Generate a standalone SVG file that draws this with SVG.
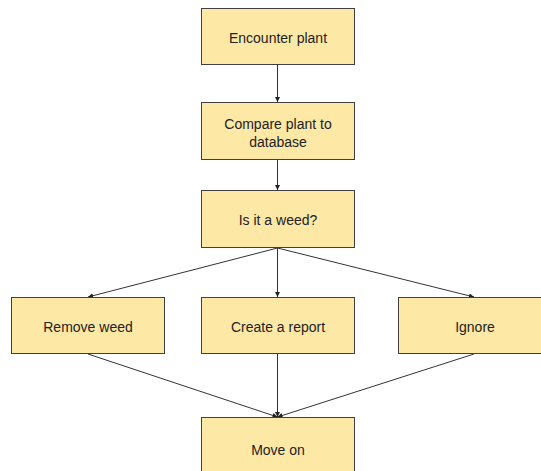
<svg xmlns="http://www.w3.org/2000/svg" width="541" height="471" viewBox="0 0 541 471">
<defs>
<style>
.box{fill:#fde8a6;stroke:#404040;stroke-width:1}
.lbl{font-family:"Liberation Sans",Arial,sans-serif;font-size:14px;fill:#222;text-anchor:middle}
.con{stroke:#333;stroke-width:1;fill:none;marker-end:url(#ah)}
</style>
<marker id="ah" viewBox="0 0 10 10" refX="10" refY="5" markerWidth="5" markerHeight="5" orient="auto" markerUnits="userSpaceOnUse">
<path d="M0,0 L10,5 L0,10 z" fill="#222"/>
</marker>
</defs>
<rect width="541" height="471" fill="#fff"/>
<g id="connectors">
<line class="con" x1="277.5" y1="65" x2="277.5" y2="102"/>
<line class="con" x1="277.5" y1="160" x2="277.5" y2="190"/>
<line class="con" x1="277.5" y1="248" x2="88" y2="297"/>
<line class="con" x1="277.5" y1="248" x2="277.5" y2="297"/>
<line class="con" x1="277.5" y1="248" x2="474" y2="297"/>
<line class="con" x1="88" y1="354" x2="277.5" y2="417"/>
<line class="con" x1="277.5" y1="354" x2="277.5" y2="417"/>
<line class="con" x1="474" y1="354" x2="277.5" y2="417"/>
</g>
<g id="encounter"><rect class="box" x="201.5" y="8.5" width="153" height="56"/><text class="lbl" x="278" y="43">Encounter plant</text></g>
<g id="compare"><rect class="box" x="201.5" y="102.5" width="153" height="57"/><text class="lbl" x="278" y="129">Compare plant to</text><text class="lbl" x="278" y="147">database</text></g>
<g id="weed"><rect class="box" x="201.5" y="190.5" width="153" height="57"/><text class="lbl" x="278" y="225">Is it a weed?</text></g>
<g id="remove"><rect class="box" x="11.5" y="297.5" width="153" height="56"/><text class="lbl" x="88" y="332">Remove weed</text></g>
<g id="report"><rect class="box" x="201.5" y="297.5" width="153" height="56"/><text class="lbl" x="278" y="332">Create a report</text></g>
<g id="ignore"><rect class="box" x="398.5" y="297.5" width="153" height="56"/><text class="lbl" x="475" y="332">Ignore</text></g>
<g id="moveon"><rect class="box" x="201.5" y="417.5" width="153" height="60"/><text class="lbl" x="278" y="455">Move on</text></g>
</svg>
